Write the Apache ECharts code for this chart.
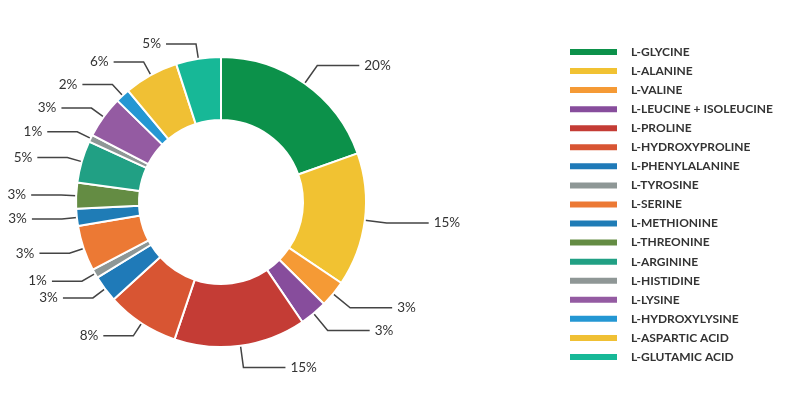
<!DOCTYPE html>
<html>
<head>
<meta charset="utf-8">
<script src="https://cdn.jsdelivr.net/npm/echarts@6/dist/echarts.min.js"></script>
<style>
  html, body { margin: 0; padding: 0; background: #fff; }
  #chart { width: 788px; height: 398px; }
</style>
</head>
<body>
<div id="chart"></div>
<script>
// amino acids, clockwise from 12 o'clock
var names = [
  "L-GLYCINE", "L-ALANINE", "L-VALINE", "L-LEUCINE + ISOLEUCINE",
  "L-PROLINE", "L-HYDROXYPROLINE", "L-PHENYLALANINE", "L-TYROSINE",
  "L-SERINE", "L-METHIONINE", "L-THREONINE", "L-ARGININE",
  "L-HISTIDINE", "L-LYSINE", "L-HYDROXYLYSINE", "L-ASPARTIC ACID",
  "L-GLUTAMIC ACID"
];
// slice sizes (share of the ring)
var values = [19.6, 14.9, 3.0, 3.1, 14.7, 8.1, 3.0, 1.0, 5.1, 1.9, 2.9, 4.7, 0.8, 4.7, 1.6, 6.1, 5.0];
// labels as printed on the chart
var labels = ["20%", "15%", "3%", "3%", "15%", "8%", "3%", "1%", "3%", "3%", "3%", "5%", "1%", "3%", "2%", "6%", "5%"];
var colors = [
  "#0c914a", "#f1c232", "#f59a35", "#874d9c", "#c43c35", "#d85533",
  "#1f7ab8", "#8e9796", "#ec7934", "#1f7cb6", "#648c43", "#21a084",
  "#8f9796", "#945ba2", "#2497d3", "#f0c034", "#17b897"
];

var chart = echarts.init(document.getElementById("chart"));

var total = values.reduce(function (a, b) { return a + b; }, 0);
var acc = 0;
var pieData = names.map(function (n, i) {
  var mid = (acc + values[i] / 2) / total; // 0..1 clockwise from top
  acc += values[i];
  var rightSide = mid < 0.5;
  return {
    name: n,
    value: values[i],
    label: { formatter: labels[i] },
    // right-hand labels sit a bit further out than the left ones
    labelLine: rightSide ? { length: 22, length2: 42 } : { length: 15, length2: 30 },
  };
});

var option = {
  color: colors,
  animation: false,
  legend: {
    orient: "vertical",
    left: 568,
    top: 45,
    padding: 0,
    itemWidth: 49,
    itemHeight: 8,
    itemGap: 5.06,
    icon: "rect",
    textStyle: {
      fontFamily: "Lato",
      fontWeight: "bold",
      fontSize: 12,
      lineHeight: 14,
      color: "#333",
      padding: [0, 0, 0, 8],
    },
    data: names,
  },
  series: [
    {
      type: "pie",
      center: [221, 202],
      radius: [82, 145],
      startAngle: 90,
      clockwise: true,
      avoidLabelOverlap: true,
      itemStyle: {
        borderColor: "#fff",
        borderWidth: 2,
      },
      label: {
        fontFamily: "Lato",
        fontSize: 13.5,
        color: "#333",
        overflow: "none",
      },
      labelLine: {
        lineStyle: {
          color: "#444",
          width: 1.5,
        },
      },
      data: pieData,
    },
  ],
};
chart.setOption(option);
</script>
</body>
</html>
